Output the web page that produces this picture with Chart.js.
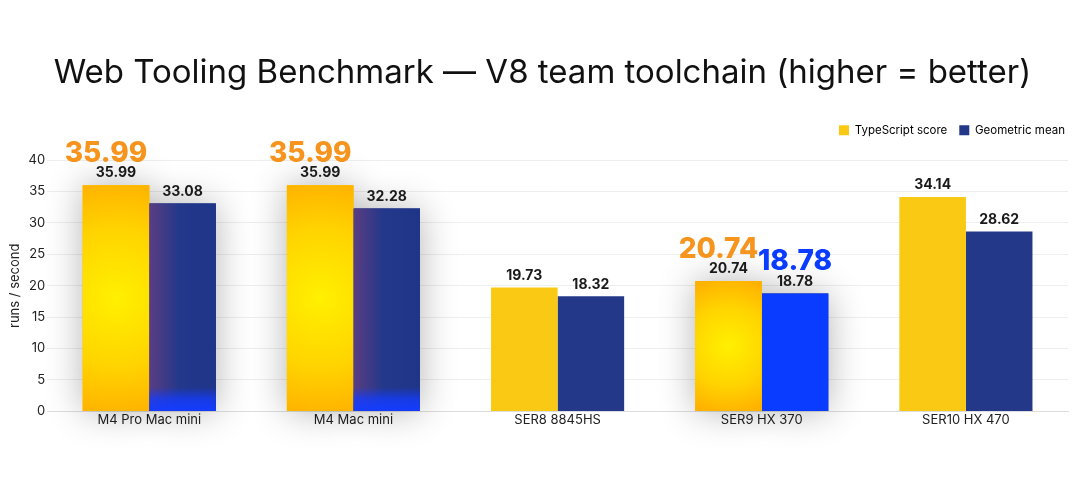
<!DOCTYPE html>
<html>
<head>
<meta charset="utf-8">
<script src="https://cdn.jsdelivr.net/npm/chart.js@4.4.1/dist/chart.umd.min.js"></script>
<style>
  html, body { margin: 0; padding: 0; background: #fff; }
  #wrap { width: 1080px; height: 494px; }
</style>
</head>
<body>
<div id="wrap"><canvas id="c"></canvas></div>
<script>
var categories = ['M4 Pro Mac mini', 'M4 Mac mini', 'SER8 8845HS', 'SER9 HX 370', 'SER10 HX 470'];
var tsScores = [35.99, 35.99, 19.73, 20.74, 34.14];
var geoMeans = [33.08, 32.28, 18.32, 18.78, 28.62];
var yTicks = [0, 5, 10, 15, 20, 25, 30, 35, 40];

// which bars get the "callout" treatment
var glowTS = [0, 1, 3];
var glowGeo = [0, 1];
var bigTS = [0, 1, 3];
var bigGeo = [3];

var YELLOW = '#f9c914', NAVY = '#24388a', BRIGHT = '#0a3cff', ORANGE = '#f7941d';
var FONT = 'Inter, "Noto Sans", sans-serif';

var geoColors = geoMeans.map(function (v, i) { return i === 3 ? BRIGHT : NAVY; });

function has(arr, i) { return arr.indexOf(i) !== -1; }

// extra room under the legend, and nudge title/legend to the right a little
var layoutTweaks = {
  id: 'layoutTweaks',
  beforeInit: function (chart) {
    var fit = chart.legend.fit;
    chart.legend.fit = function () { fit.call(this); this.height += 14; };
  },
  afterLayout: function (chart) {
    chart.titleBlock.left += 6; chart.titleBlock.right += 6;
    chart.legend.left += 9; chart.legend.right += 9;
  }
};

var callouts = {
  id: 'callouts',
  beforeDatasetsDraw: function (chart) {
    var ctx = chart.ctx;
    var ts = chart.getDatasetMeta(0).data, geo = chart.getDatasetMeta(1).data;
    ctx.save();
    ctx.shadowColor = 'rgba(0,0,0,0.3)';
    ctx.shadowBlur = 36;
    for (var i = 0; i < ts.length; i++) {
      if (!has(glowTS, i) && !has(bigGeo, i)) continue;
      [ts[i], geo[i]].forEach(function (el, d) {
        ctx.fillStyle = d === 0 ? YELLOW : NAVY;
        ctx.fillRect(el.x - el.width / 2, el.y, el.width, el.base - el.y);
      });
    }
    ctx.restore();
  },
  afterDatasetsDraw: function (chart) {
    var ctx = chart.ctx;
    var ts = chart.getDatasetMeta(0).data, geo = chart.getDatasetMeta(1).data;
    ctx.save();
    // gradient overlays
    ts.forEach(function (el, i) {
      if (!has(glowTS, i)) return;
      var l = el.x - el.width / 2, h = el.base - el.y;
      var g = ctx.createRadialGradient(el.x, el.y + h * 0.5, 0, el.x, el.y + h * 0.5, Math.max(h * 0.55, el.width));
      g.addColorStop(0, '#fff000');
      g.addColorStop(0.55, '#ffd400');
      g.addColorStop(1, '#ffae00');
      ctx.fillStyle = g;
      ctx.fillRect(l, el.y, el.width, h);
    });
    geo.forEach(function (el, i) {
      if (!has(glowGeo, i)) return;
      var l = el.x - el.width / 2, h = el.base - el.y;
      var g = ctx.createLinearGradient(l, 0, l + el.width, 0);
      g.addColorStop(0, '#5b3d82');
      g.addColorStop(0.45, '#23388a');
      g.addColorStop(1, '#1f3588');
      ctx.fillStyle = g;
      ctx.fillRect(l, el.y, el.width, h);
      var g2 = ctx.createLinearGradient(0, el.base - 24, 0, el.base);
      g2.addColorStop(0, 'rgba(20,60,255,0)');
      g2.addColorStop(0.5, 'rgba(20,60,255,0.75)');
      g2.addColorStop(1, 'rgba(20,60,255,1)');
      ctx.fillStyle = g2;
      ctx.fillRect(l, el.base - 24, el.width, 24);
    });
    // value labels
    ctx.textAlign = 'center';
    ctx.textBaseline = 'bottom';
    ctx.fillStyle = '#1a1a1a';
    ctx.font = 'bold 14px ' + FONT;
    [ts, geo].forEach(function (els, d) {
      var vals = d === 0 ? tsScores : geoMeans;
      els.forEach(function (el, i) {
        ctx.fillText(vals[i].toFixed(2), el.x, el.y - 5);
      });
    });
    // big callout numbers
    ctx.font = '800 28px ' + FONT;
    ts.forEach(function (el, i) {
      if (!has(bigTS, i)) return;
      ctx.fillStyle = ORANGE;
      ctx.fillText(tsScores[i].toFixed(2), el.x - 10, el.y - 18);
    });
    geo.forEach(function (el, i) {
      if (!has(bigGeo, i)) return;
      ctx.fillStyle = BRIGHT;
      ctx.fillText(geoMeans[i].toFixed(2), el.x, el.y - 18);
    });
    ctx.restore();
  }
};

new Chart(document.getElementById('c'), {
  type: 'bar',
  data: {
    labels: categories,
    datasets: [
      { label: 'TypeScript score', data: tsScores, backgroundColor: YELLOW, borderWidth: 0 },
      { label: 'Geometric mean', data: geoMeans, backgroundColor: geoColors, borderWidth: 0 }
    ]
  },
  options: {
    responsive: true, maintainAspectRatio: false, animation: false,
    categoryPercentage: 0.652, barPercentage: 1.0,
    layout: { padding: { left: 5, right: 12, bottom: 65 } },
    plugins: {
      title: { display: true, text: 'Web Tooling Benchmark \u2014 V8 team toolchain (higher = better)', color: '#111', font: { family: FONT, size: 33, weight: '400' }, padding: { top: 53, bottom: 20 } },
      legend: {
        position: 'top', align: 'end',
        labels: {
          color: '#333', boxWidth: 10, boxHeight: 10, padding: 12, font: { family: FONT, size: 11.5 },
          generateLabels: function () {
            return [
              { text: 'TypeScript score', fillStyle: YELLOW, strokeStyle: YELLOW, lineWidth: 0, datasetIndex: 0 },
              { text: 'Geometric mean', fillStyle: NAVY, strokeStyle: NAVY, lineWidth: 0, datasetIndex: 1 }
            ];
          }
        }
      },
      tooltip: { enabled: false }
    },
    scales: {
      x: {
        grid: { display: false, drawTicks: false },
        border: { color: '#dddddd' },
        ticks: { color: '#222', font: { family: FONT, size: 13 }, padding: 1 }
      },
      y: {
        min: 0, max: 40,
        afterBuildTicks: function (axis) { axis.ticks = yTicks.map(function (v) { return { value: v }; }); },
        grid: { color: '#eeeeee', drawTicks: false },
        border: { display: false },
        ticks: { color: '#222', font: { family: FONT, size: 13 }, padding: 2 },
        title: { display: true, text: 'runs / second', color: '#222', font: { family: FONT, size: 13 }, padding: { top: 2, bottom: 4 } }
      }
    }
  },
  plugins: [layoutTweaks, callouts]
});
</script>
</body>
</html>
